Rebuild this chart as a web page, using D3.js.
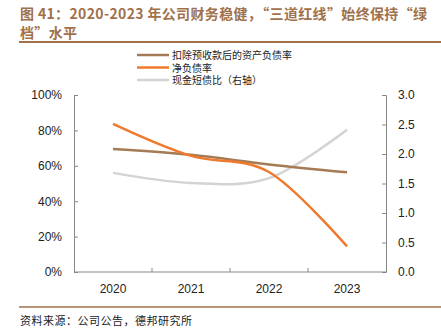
<!DOCTYPE html>
<html>
<head>
<meta charset="utf-8">
<script src="https://cdn.jsdelivr.net/npm/d3@7"></script>
<style>
  body { margin: 0; background: #fff; }
  svg { display: block; }
</style>
</head>
<body>
<svg id="chart" width="441" height="333"></svg>
<script>
// categories and series
var years = ["2020", "2021", "2022", "2023"];
var assetLiab = [69.5, 66.2, 60.8, 56.3];   // 扣除预收款后的资产负债率 (%)
var netDebt = [83.7, 65.6, 56.5, 14.5];     // 净负债率 (%)
var cashRatio = [1.68, 1.51, 1.59, 2.41];   // 现金短债比 (右轴)
var leftTicks = [0, 20, 40, 60, 80, 100];
var rightTicks = [0, 0.5, 1.0, 1.5, 2.0, 2.5, 3.0];

var svg = d3.select("#chart");
var brown = "#a47b55", orange = "#ef7a2d", grey = "#d3d3d3";
var titleColor = "#a0714b";
var cjk = "'Noto Sans CJK SC', sans-serif";
var latin = "'Liberation Sans', Arial, sans-serif";

var plotL = 74, plotR = 386, plotT = 95, plotB = 272;

// title
var title = svg.append("text").attr("fill", titleColor)
  .style("font-family", cjk).style("font-size", "14px").style("font-weight", "bold")
  .style("letter-spacing", "0.35px");
title.append("tspan").attr("x", 20).attr("y", 19)
  .text("图 41：2020-2023 年公司财务稳健，“三道红线”始终保持“绿");
title.append("tspan").attr("x", 20).attr("y", 38).text("档”水平");

svg.append("line").attr("x1", 19).attr("x2", 441).attr("y1", 42).attr("y2", 42)
  .attr("stroke", titleColor).attr("stroke-width", 2);
svg.append("line").attr("x1", 19).attr("x2", 441).attr("y1", 307).attr("y2", 307)
  .attr("stroke", titleColor).attr("stroke-width", 1.5);

svg.append("text").attr("x", 20).attr("y", 325)
  .style("font-family", cjk).style("font-size", "11px").attr("fill", "#222")
  .style("letter-spacing", "0.5px")
  .text("资料来源：公司公告，德邦研究所");

// scales
var x = d3.scaleBand().domain(years).range([plotL, plotR]);
var yL = d3.scaleLinear().domain([0, 100]).range([plotB, plotT]);
var yR = d3.scaleLinear().domain([0, 3]).range([plotB, plotT]);

var axisStyle = function (g) {
  g.select(".domain").attr("stroke", "#888");
  g.selectAll(".tick line").attr("stroke", "#888");
  g.selectAll(".tick text").style("font-family", latin).style("font-size", "12px").attr("fill", "#222");
};

svg.append("g").attr("transform", "translate(" + plotL + ",0)")
  .call(d3.axisLeft(yL).tickValues(leftTicks).tickSize(-4).tickSizeOuter(-4).tickPadding(12)
    .tickFormat(function (d) { return d + "%"; }))
  .call(axisStyle);

svg.append("g").attr("transform", "translate(" + plotR + ",0)")
  .call(d3.axisRight(yR).tickValues(rightTicks).tickSize(-4).tickSizeOuter(-4).tickPadding(12)
    .tickFormat(d3.format(".1f")))
  .call(axisStyle);

// category axis with inner ticks on band edges
var xg = svg.append("g").attr("transform", "translate(0," + plotB + ")");
xg.append("line").attr("x1", plotL).attr("x2", plotR).attr("stroke", "#888");
xg.selectAll("line.sep").data(years.slice(1)).enter().append("line")
  .attr("class", "sep")
  .attr("x1", function (d) { return x(d); }).attr("x2", function (d) { return x(d); })
  .attr("y1", 0).attr("y2", -4).attr("stroke", "#888");
xg.selectAll("text").data(years).enter().append("text")
  .attr("x", function (d) { return x(d) + x.bandwidth() / 2; })
  .attr("y", 21).attr("text-anchor", "middle")
  .style("font-family", latin).style("font-size", "12px").attr("fill", "#222")
  .text(function (d) { return d; });

// smoothed series
var cx = function (d, i) { return x(years[i]) + x.bandwidth() / 2; };
var lineL = d3.line().x(cx).y(function (d) { return yL(d); }).curve(d3.curveCatmullRom.alpha(0));
var lineR = d3.line().x(cx).y(function (d) { return yR(d); }).curve(d3.curveCatmullRom.alpha(0));

svg.append("path").datum(cashRatio).attr("d", lineR)
  .attr("fill", "none").attr("stroke", grey).attr("stroke-width", 2.5);
svg.append("path").datum(assetLiab).attr("d", lineL)
  .attr("fill", "none").attr("stroke", brown).attr("stroke-width", 2.5);
svg.append("path").datum(netDebt).attr("d", lineL)
  .attr("fill", "none").attr("stroke", orange).attr("stroke-width", 2.5);

// legend
var legend = [
  { name: "扣除预收款后的资产负债率", color: brown },
  { name: "净负债率", color: orange },
  { name: "现金短债比（右轴）", color: grey }
];
var lg = svg.selectAll("g.leg").data(legend).enter().append("g")
  .attr("class", "leg")
  .attr("transform", function (d, i) { return "translate(137," + (55 + i * 12.5) + ")"; });
lg.append("line").attr("x1", 0).attr("x2", 32).attr("stroke-width", 2.5)
  .attr("stroke", function (d) { return d.color; });
lg.append("text").attr("x", 35).attr("y", 4)
  .style("font-family", cjk).style("font-size", "10px").attr("fill", "#222")
  .text(function (d) { return d.name; });
</script>
</body>
</html>
